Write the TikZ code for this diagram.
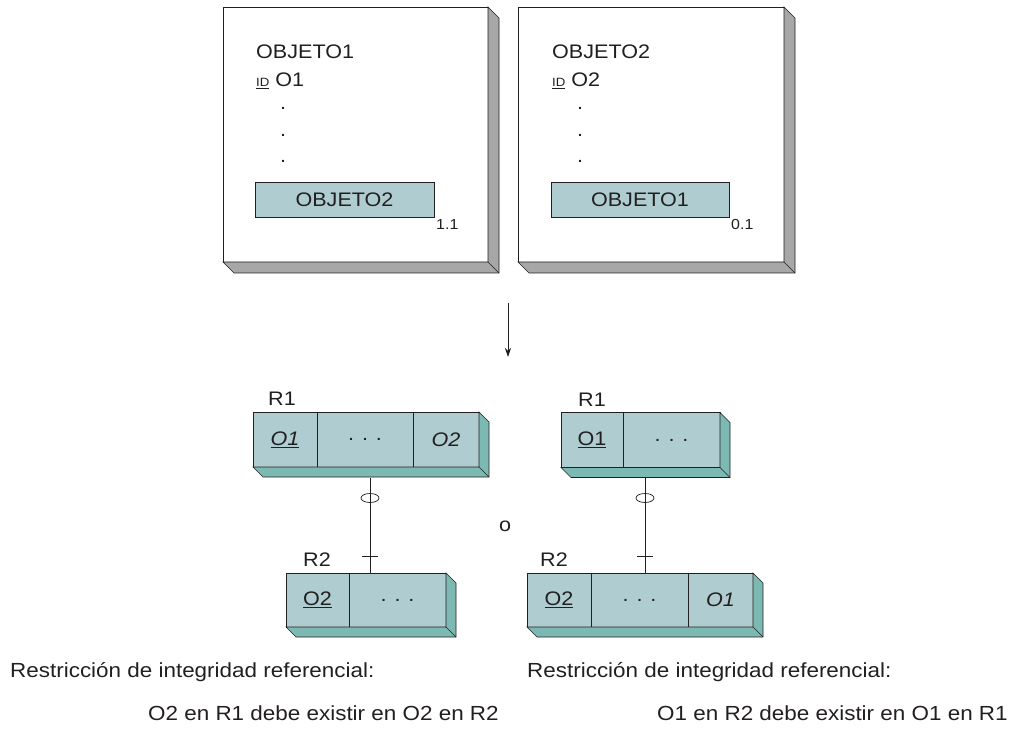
\documentclass[tikz,border=0pt]{standalone}
\usepackage{fontspec}
\setmainfont{Liberation Sans}[FakeStretch=1.1]
\usepackage{tikz}
\usetikzlibrary{positioning,calc,arrows.meta,shapes.geometric}
\definecolor{facecol}{HTML}{AFCCD0}
\definecolor{sidecol}{HTML}{7DB9B3}
\definecolor{shadecol}{HTML}{A7A7A7}
\definecolor{linecol}{HTML}{231F20}
\newcommand{\fsz}[1]{\fontsize{#1}{#1}\selectfont}
\newcommand{\slab}[4]{% #1 colour, #2 left node, #3 right node, #4 depth (pt)
  \filldraw[fill=#1, draw=linecol, line width=0.6pt] (#3.north east) -- ++(#4pt,-#4pt) -- ($(#3.south east)+(#4pt,-#4pt)$)
    -- ($(#2.south west)+(#4pt,-#4pt)$) -- (#2.south west) -- (#3.south east) -- cycle;
  \draw[linecol, line width=0.6pt] (#3.south east) -- ++(#4pt,-#4pt);
}

\begin{document}
\begin{tikzpicture}[x=1pt, y=-1pt, every node/.style={font=\fsz{19.6}, inner sep=0pt, text=linecol},
    box/.style={draw=linecol, fill=white, line width=0.6pt, minimum width=265pt, minimum height=255pt, outer sep=0pt},
    field/.style={draw=linecol, fill=facecol, line width=0.6pt, minimum height=35pt, outer sep=0pt},
    cell/.style={draw=linecol, fill=facecol, line width=0.6pt, minimum height=55pt, outer sep=0pt},
    link/.style={draw=linecol, line width=0.7pt}]
  \useasboundingbox (0,0) rectangle (1021,738);
  % objects
  \node[box] (obj1) at (355.5,134.5) {};
  \slab{shadecol}{obj1}{obj1}{11}
  \node[anchor=west] (tit1) at (256,52) {OBJETO1};
  \node[anchor=base west] (id1) at (256,87) {{\fsz{12}\underline{ID}} O1};
  \foreach \y [count=\i] in {108,135,161}
    \node (dota\i) at (283,\y) {.};
  \node[field, minimum width=179pt] (ref1) at (344.5,199.5) {OBJETO2};
  \node[anchor=north west, font=\fsz{14.5}] (card1) at ($(ref1.south east)+(2pt,-2pt)$) {1.1};

  \node[box, minimum width=266pt] (obj2) at (651,134.5) {};
  \slab{shadecol}{obj2}{obj2}{11}
  \node[anchor=west] (tit2) at (552,52) {OBJETO2};
  \node[anchor=base west] (id2) at (552,87) {{\fsz{12}\underline{ID}} O2};
  \foreach \y [count=\i] in {108,135,161}
    \node (dotb\i) at (580,\y) {.};
  \node[field, minimum width=178pt] (ref2) at (640,199.5) {OBJETO1};
  \node[anchor=north west, font=\fsz{14.5}] (card2) at ($(ref2.south east)+(2pt,-2pt)$) {0.1};

  \coordinate (arrtop) at (508,303);
  \coordinate (arrbot) at (508,357);
  \draw[link, -{Stealth[length=9pt,width=6pt]}] (arrtop) -- (arrbot);

  % left option
  \node[cell, minimum width=64pt] (r1a) at (285,439.5) {\underline{\textit{O1}}};
  \node[cell, minimum width=96pt, right=0pt of r1a] (r1b) {. . .};
  \node[cell, minimum width=66pt, right=0pt of r1b] (r1c) {\textit{O2}};
  \slab{sidecol}{r1a}{r1c}{10}
  \node[anchor=south west] (r1lab) at ($(r1a.north west)+(15pt,6pt)$) {R1};

  \node[cell, minimum width=63pt, minimum height=54pt] (r2a) at (317.5,600) {\underline{O2}};
  \node[cell, minimum width=97pt, minimum height=54pt, right=0pt of r2a] (r2b) {. . .};
  \slab{sidecol}{r2a}{r2b}{10}
  \node[anchor=south west] (r2lab) at ($(r2a.north west)+(17pt,6pt)$) {R2};

  \coordinate (lk1) at (370,478);
  \coordinate (tk1) at (370,556);
  \draw[link] (lk1) -- (lk1 |- r2a.north);
  \node[draw=linecol, line width=0.7pt, ellipse, minimum width=18pt, minimum height=9pt] (opt1) at (370,498) {};
  \draw[link] ($(tk1)+(-8pt,0pt)$) -- ($(tk1)+(8pt,0pt)$);

  \node (orsep) at (505,526) {o};

  % right option
  \node[cell, minimum width=62pt] (s1a) at (592,440) {\underline{O1}};
  \node[cell, minimum width=97pt, right=0pt of s1a] (s1b) {. . .};
  \slab{sidecol}{s1a}{s1b}{10}
  \node[anchor=south west] (s1lab) at ($(s1a.north west)+(17pt,6pt)$) {R1};

  \node[cell, minimum width=64pt, minimum height=54pt] (s2a) at (559,600) {\underline{O2}};
  \node[cell, minimum width=97pt, minimum height=54pt, right=0pt of s2a] (s2b) {. . .};
  \node[cell, minimum width=65pt, minimum height=54pt, right=0pt of s2b] (s2c) {\textit{O1}};
  \slab{sidecol}{s2a}{s2c}{10}
  \node[anchor=south west] (s2lab) at ($(s2a.north west)+(13pt,6pt)$) {R2};

  \coordinate (lk2) at (645,478);
  \coordinate (tk2) at (645,556);
  \draw[link] (lk2) -- (lk2 |- s2a.north);
  \node[draw=linecol, line width=0.7pt, ellipse, minimum width=18pt, minimum height=9pt] (opt2) at (645,498) {};
  \draw[link] ($(tk2)+(-8pt,0pt)$) -- ($(tk2)+(8pt,0pt)$);

  % constraints
  \node[anchor=base west, font=\fsz{20.4}] (rest1) at (10,677) {Restricción de integridad referencial:};
  \node[anchor=base west, font=\fsz{20.4}] (rule1) at (148,720) {O2 en R1 debe existir en O2 en R2};
  \node[anchor=base west, font=\fsz{20.4}] (rest2) at (527,677) {Restricción de integridad referencial:};
  \node[anchor=base west, font=\fsz{20.4}] (rule2) at (657,720) {O1 en R2 debe existir en O1 en R1};
\end{tikzpicture}
\end{document}
